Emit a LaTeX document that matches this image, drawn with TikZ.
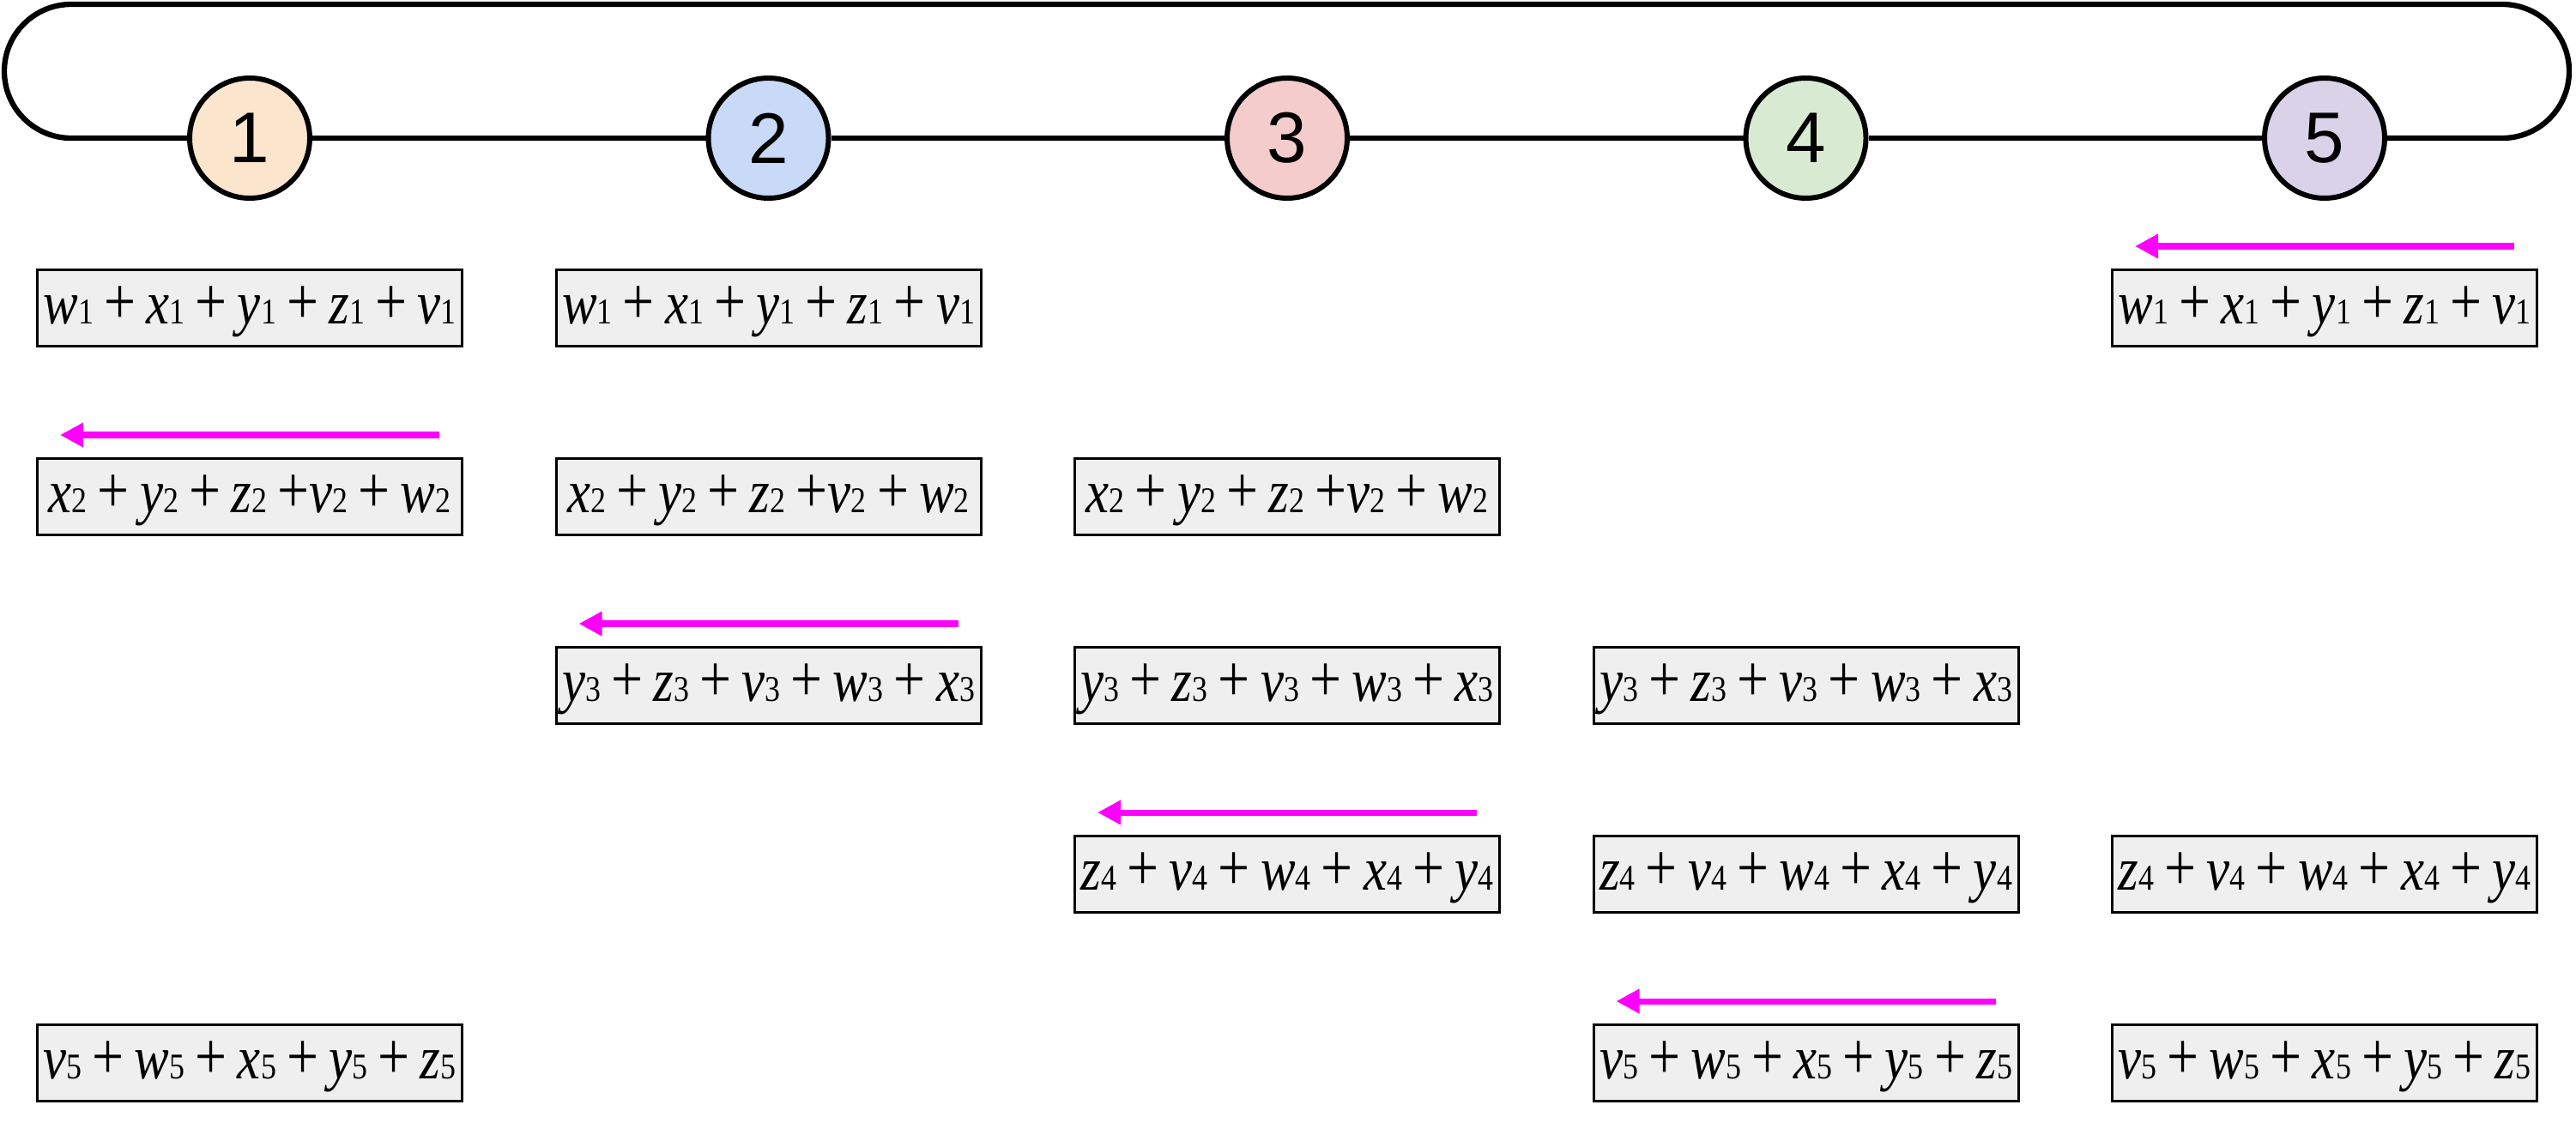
\documentclass[tikz,border=0pt]{standalone}
\usepackage{fontspec}
\usepackage{graphicx}
\setmainfont{Liberation Serif}
\newfontfamily\numfont{Liberation Sans}
\usetikzlibrary{arrows.meta}
\definecolor{peach}{HTML}{FCE5CD}
\definecolor{skyb}{HTML}{C9DAF8}
\definecolor{rose}{HTML}{F4CCCC}
\definecolor{mint}{HTML}{D9EAD3}
\definecolor{lilac}{HTML}{D9D2E9}
\definecolor{boxgray}{HTML}{EFEFEF}
\definecolor{mgn}{RGB}{255,0,255}
\newcommand{\tm}[2]{\textit{#1}{\fontsize{12}{14}\selectfont #2}}
\newcommand{\plus}{{\fontsize{22}{24}\selectfont +}}
\newcommand{\pl}{\hspace{0.2em}\plus\hspace{0.2em}}
\newcommand{\sq}[1]{\scalebox{0.85}[1]{#1}}
\newcommand{\rowa}{\sq{\tm{w}{1}\pl\tm{x}{1}\pl\tm{y}{1}\pl\tm{z}{1}\pl\tm{v}{1}}}
\newcommand{\rowb}{\sq{\tm{x}{2}\pl\tm{y}{2}\pl\tm{z}{2}\hspace{0.2em}\plus\tm{v}{2}\pl\tm{w}{2}}}
\newcommand{\rowc}{\sq{\tm{y}{3}\pl\tm{z}{3}\pl\tm{v}{3}\pl\tm{w}{3}\pl\tm{x}{3}}}
\newcommand{\rowd}{\sq{\tm{z}{4}\pl\tm{v}{4}\pl\tm{w}{4}\pl\tm{x}{4}\pl\tm{y}{4}}}
\newcommand{\rowe}{\sq{\tm{v}{5}\pl\tm{w}{5}\pl\tm{x}{5}\pl\tm{y}{5}\pl\tm{z}{5}}}

\begin{document}
\begin{tikzpicture}[dev/.style={circle,draw=black,line width=1.7pt,minimum size=1.4cm,inner sep=0pt,font=\numfont\fontsize{23.8}{26}\selectfont},
sum/.style={rectangle,draw=black,line width=0.85pt,fill=boxgray,minimum width=4.95cm,minimum height=0.89cm,inner sep=0pt,text height=0.5cm,text depth=0.13cm,font=\fontsize{20.4}{24}\selectfont},
ring/.style={line width=1.8pt},
mv/.style={-{Triangle[length=0.27cm,width=0.27cm]},line width=2pt,mgn}]
	\useasboundingbox (0,0) rectangle (30.02,13.15);
	
	\node[dev,fill=peach] at (2.91,11.54) (c1) {1};
	\node[dev,fill=skyb] at (8.955,11.54) (c2) {2};
	\node[dev,fill=rose] at (15,11.54) (c3) {3};
	\node[dev,fill=mint] at (21.045,11.54) (c4) {4};
	\node[dev,fill=lilac] at (27.09,11.54) (c5) {5};
	\coordinate (rb) at (29.16,11.54);
	\coordinate (lt) at (0.83,13.10);
	
	\draw[ring] (c1) -- (c2) -- (c3) -- (c4) -- (c5);
	\draw[ring] (c5) -- (rb) arc[start angle=-90,end angle=90,radius=0.78] -- (lt) arc[start angle=90,end angle=270,radius=0.78] -- (c1);
	
	\node[sum] at (2.91,9.56) (m11) {\rowa};
	\node[sum] at (8.955,9.56) (m12) {\rowa};
	\node[sum] at (27.09,9.56) (m15) {\rowa};
	\node[sum] at (2.91,7.36) (m21) {\rowb};
	\node[sum] at (8.955,7.36) (m22) {\rowb};
	\node[sum] at (15,7.36) (m23) {\rowb};
	\node[sum] at (8.955,5.16) (m32) {\rowc};
	\node[sum] at (15,5.16) (m33) {\rowc};
	\node[sum] at (21.045,5.16) (m34) {\rowc};
	\node[sum] at (15,2.96) (m43) {\rowd};
	\node[sum] at (21.045,2.96) (m44) {\rowd};
	\node[sum] at (27.09,2.96) (m45) {\rowd};
	\node[sum] at (2.91,0.76) (m51) {\rowe};
	\node[sum] at (21.045,0.76) (m54) {\rowe};
	\node[sum] at (27.09,0.76) (m55) {\rowe};
	
	\coordinate (p1) at ([xshift=-0.28cm,yshift=0.26cm]m15.north east);
	\coordinate (q1) at ([xshift=0.28cm,yshift=0.26cm]m15.north west);
	\coordinate (p2) at ([xshift=-0.28cm,yshift=0.26cm]m21.north east);
	\coordinate (q2) at ([xshift=0.28cm,yshift=0.26cm]m21.north west);
	\coordinate (p3) at ([xshift=-0.28cm,yshift=0.26cm]m32.north east);
	\coordinate (q3) at ([xshift=0.28cm,yshift=0.26cm]m32.north west);
	\coordinate (p4) at ([xshift=-0.28cm,yshift=0.26cm]m43.north east);
	\coordinate (q4) at ([xshift=0.28cm,yshift=0.26cm]m43.north west);
	\coordinate (p5) at ([xshift=-0.28cm,yshift=0.26cm]m54.north east);
	\coordinate (q5) at ([xshift=0.28cm,yshift=0.26cm]m54.north west);
	
	\draw[mv] (p1) -- (q1);
	\draw[mv] (p2) -- (q2);
	\draw[mv] (p3) -- (q3);
	\draw[mv] (p4) -- (q4);
	\draw[mv] (p5) -- (q5);
\end{tikzpicture}
\end{document}
